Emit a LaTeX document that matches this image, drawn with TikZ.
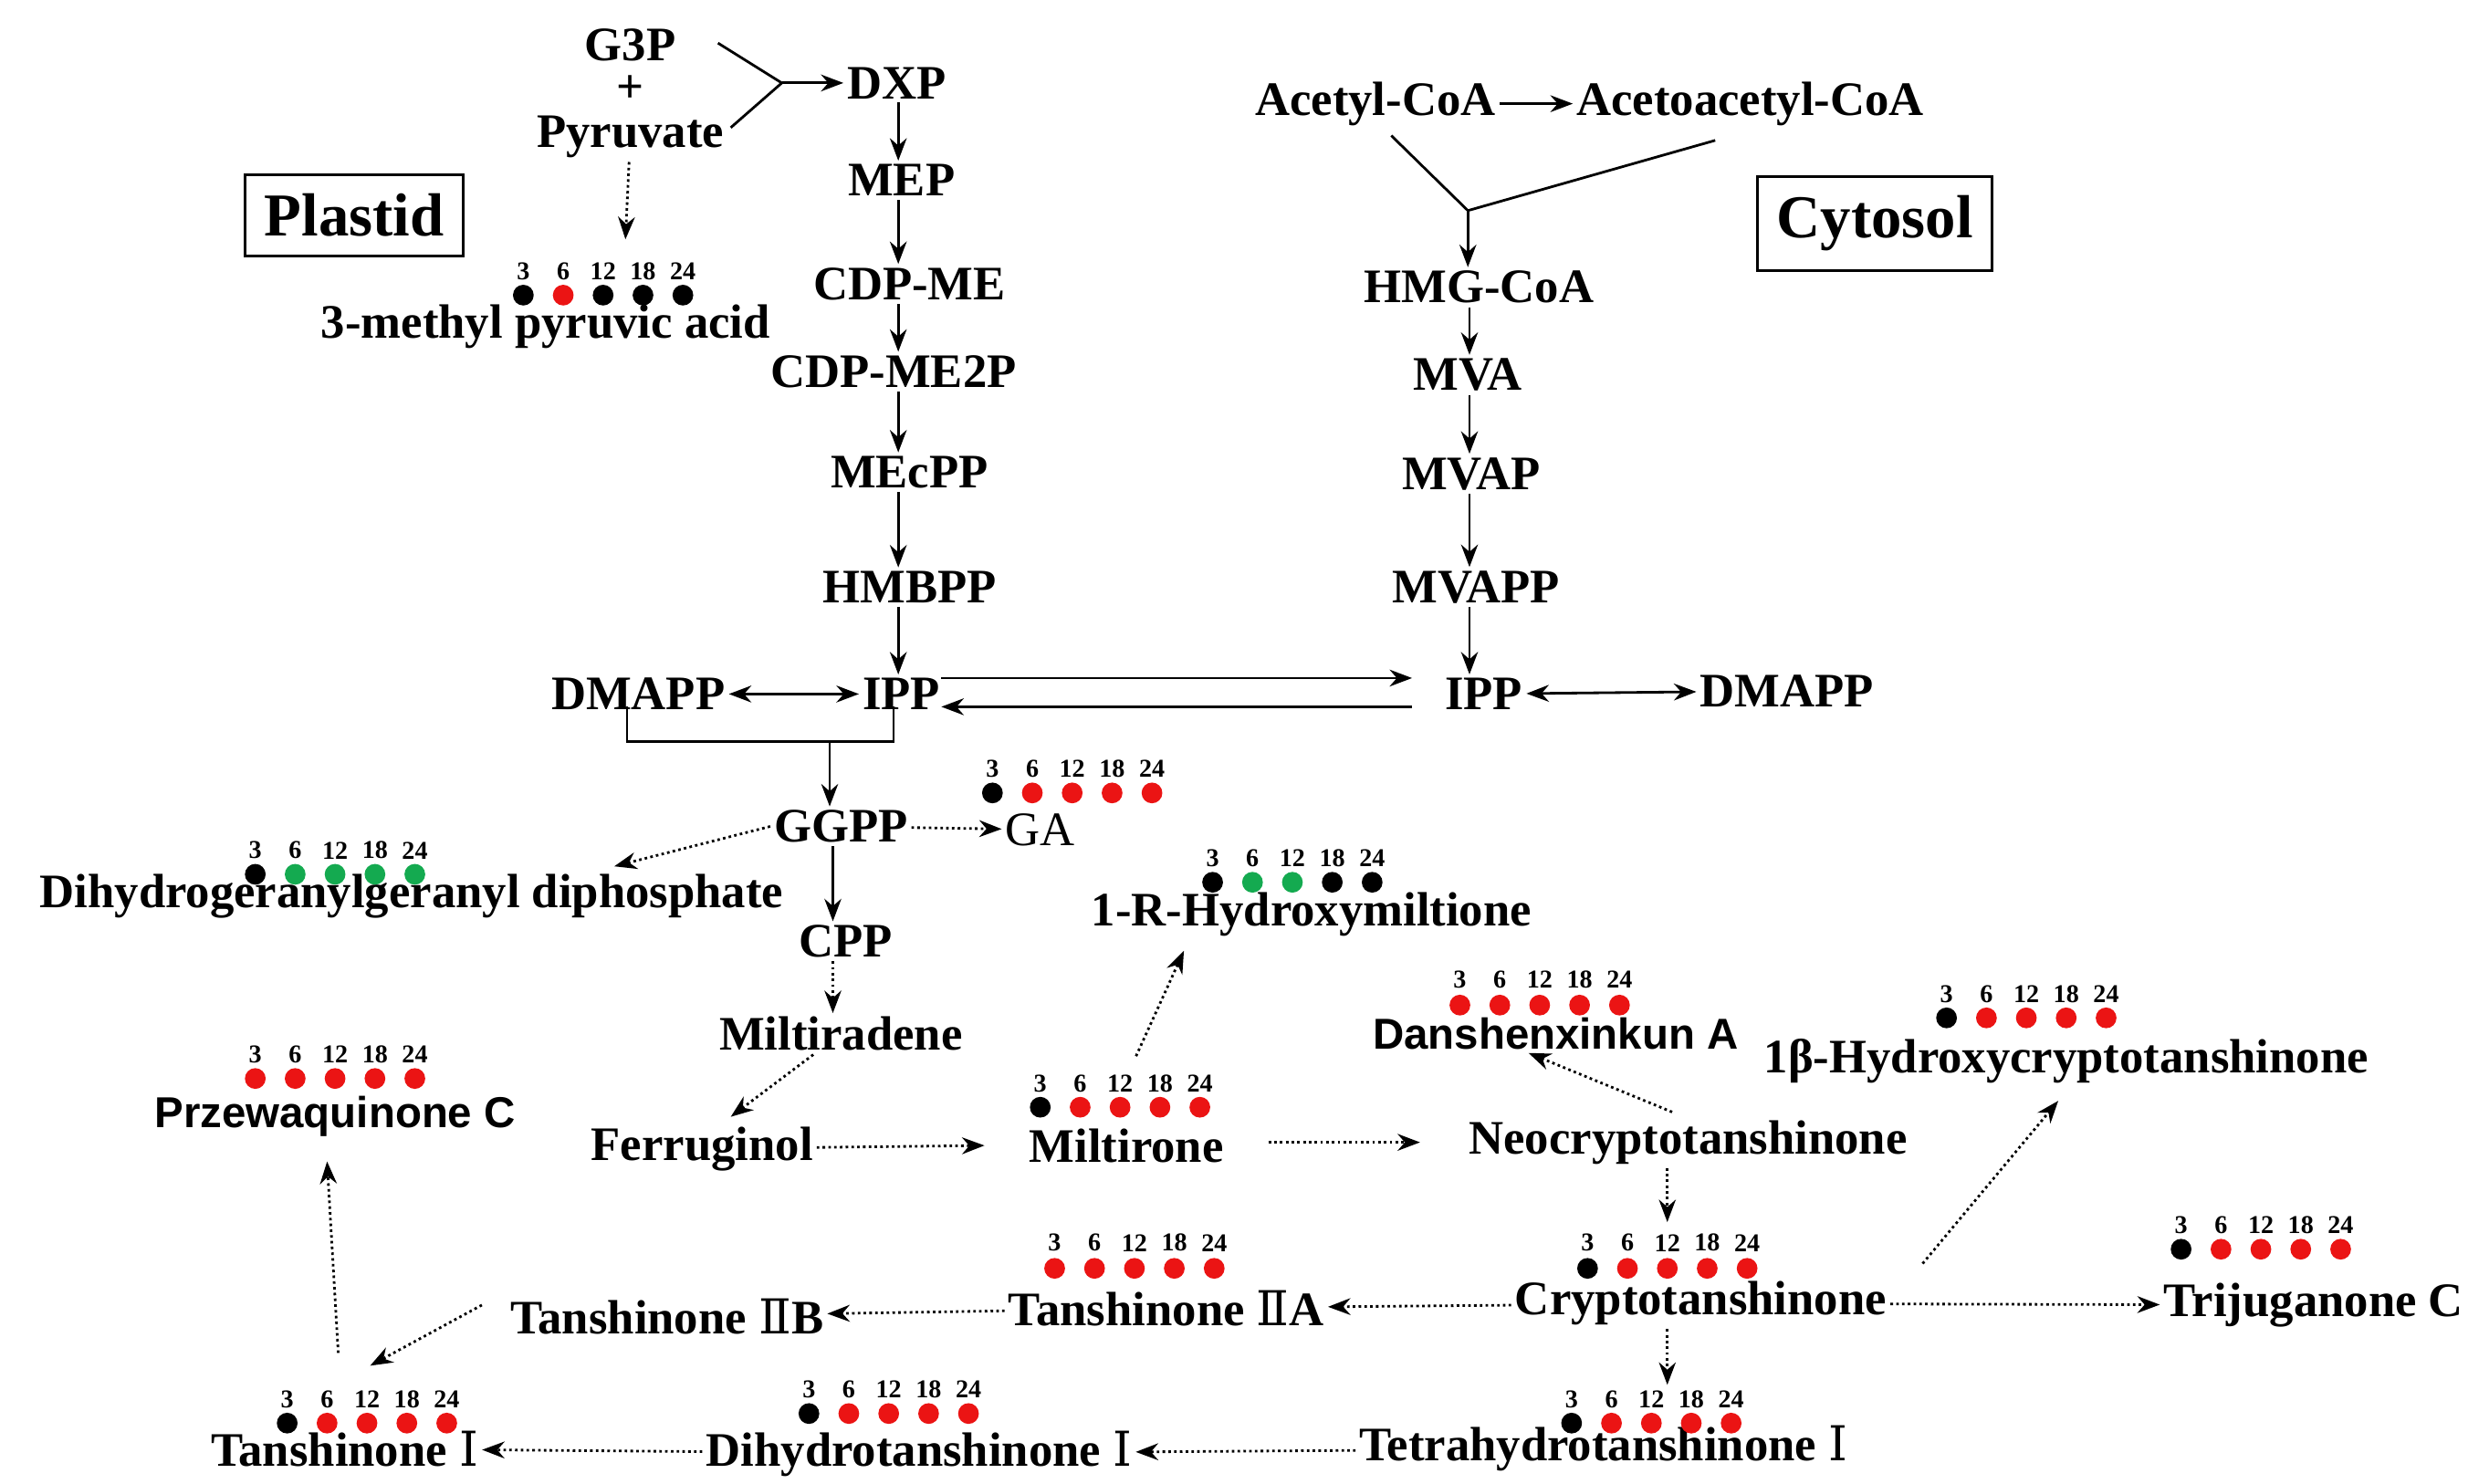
\documentclass[tikz,border=0pt]{standalone}
\usepackage{fontspec}
\setmainfont{Liberation Serif}
\setsansfont{Liberation Sans}
\newfontfamily\romfont{DejaVu Serif}
\usepackage{tikz}
\usetikzlibrary{arrows.meta}
\definecolor{dotred}{RGB}{235,20,20}
\definecolor{dotgreen}{RGB}{20,170,80}
\newcommand{\rn}[1]{{\romfont\mdseries #1}}
\tikzset{
    met/.style={font=\fontsize{15}{17}\selectfont\bfseries, inner sep=1pt},
    metsans/.style={font=\fontsize{13.5}{15}\selectfont\sffamily\bfseries, inner sep=1pt},
    conv/.style={-{Stealth[length=7pt]}, thick},
    guess/.style={-{Stealth[length=7pt]}, thick, densely dotted},
    box/.style={draw, thick, font=\fontsize{19}{21}\selectfont\bfseries, inner sep=6pt}
}
% row of five time points
\newcommand{\timedots}[4]{
    \foreach \t/\c [count=\i from 0] in {#4} {
        \fill[\c] (#1+\i*25, #2) circle (6.5);
        \node[font=\footnotesize\bfseries, inner sep=0pt] at (#1+\i*25, #3) {\t};
    }
}

\begin{document}
\begin{tikzpicture}[x=0.01748cm, y=-0.01748cm]
        \useasboundingbox (0,0) rectangle (1560,930);

        % compartments
        \node[box] (plastid) at (222,135) {Plastid};
        \node[box] (cytosol) at (1175,140) {Cytosol};

        % MEP pathway
        \node[met] (g3p) at (395,28) {G3P};
        \node[met, inner sep=0pt] (plus) at (395,56) {+};
        \node[met] (pyr) at (395,86) {Pyruvate};
        \node[met] (dxp) at (562,52) {DXP};
        \node[met] (mep) at (565,113) {MEP};
        \node[met] (cdpme) at (570,178) {CDP-ME};
        \node[met] (cdpme2p) at (560,233) {CDP-ME2P};
        \node[met] (mecpp) at (570,296) {MEcPP};
        \node[met] (hmbpp) at (570,368) {HMBPP};
        \node[met] (ippl) at (565,435) {IPP};
        \node[met] (dmappl) at (400,435) {DMAPP};
        \node[met] (mpa) at (342,205) {3-methyl pyruvic acid};
        \coordinate (fork1) at (490,52);
        \coordinate (mepx) at (563,0);
        \draw[thick] (450,27) -- (fork1) -- (458,80);
        \draw[conv] (fork1) -- (dxp);
        \draw[guess] (pyr) -- (392,150);
        \draw[conv] (dxp.south -| mepx) -- (mep.north -| mepx);
        \draw[conv] (mep.south -| mepx) -- (cdpme.north -| mepx);
        \draw[conv] (cdpme.south -| mepx) -- (cdpme2p.north -| mepx);
        \draw[conv] (cdpme2p.south -| mepx) -- (mecpp.north -| mepx);
        \draw[conv] (mecpp.south -| mepx) -- (hmbpp.north -| mepx);
        \draw[conv] (hmbpp.south -| mepx) -- (ippl.north -| mepx);
        \draw[{Stealth[length=7pt]}-{Stealth[length=7pt]}, thick] (dmappl) -- (ippl);

        % MVA pathway
        \node[met] (acetyl) at (862,65) {Acetyl-CoA};
        \node[met] (acetoacetyl) at (1097,65) {Acetoacetyl-CoA};
        \node[met] (hmg) at (927,180) {HMG-CoA};
        \node[met] (mva) at (920,235) {MVA};
        \node[met] (mvap) at (922,297) {MVAP};
        \node[met] (mvapp) at (925,368) {MVAPP};
        \node[met] (ippr) at (930,435) {IPP};
        \node[met] (dmappr) at (1120,433) {DMAPP};
        \coordinate (fork2) at (920,132);
        \coordinate (mvax) at (921,0);
        \draw[conv] (acetyl) -- (acetoacetyl);
        \draw[thick] (872,85) -- (fork2) -- (1075,88);
        \draw[conv] (fork2) -- (hmg.north -| fork2);
        \draw[conv] (hmg.south -| mvax) -- (mva.north -| mvax);
        \draw[conv] (mva.south -| mvax) -- (mvap.north -| mvax);
        \draw[conv] (mvap.south -| mvax) -- (mvapp.north -| mvax);
        \draw[conv] (mvapp.south -| mvax) -- (ippr.north -| mvax);
        \draw[{Stealth[length=7pt]}-{Stealth[length=7pt]}, thick] (ippr) -- (dmappr);
        \draw[conv] (590,425) -- (885,425);
        \draw[conv] (885,443) -- (590,443);

        % diterpenoid branch
        \node[met] (ggpp) at (527,518) {GGPP};
        \node[font=\fontsize{15}{17}\selectfont, inner sep=1pt] (ga) at (652,520) {GA};
        \node[met] (dhgg) at (258,562) {Dihydrogeranylgeranyl diphosphate};
        \node[met] (cpp) at (530,590) {CPP};
        \node[met] (miltiradene) at (527,648) {Miltiradene};
        \node[met] (ferruginol) at (440,720) {Ferruginol};
        \node[met] (miltirone) at (706,718) {Miltirone};
        \node[met] (hydroxymilt) at (822,573) {1-R-Hydroxymiltione};
        \node[metsans] (danshen) at (975,648) {Danshenxinkun A};
        \node[met] (hydroxycrypto) at (1295,665) {1β-Hydroxycryptotanshinone};
        \node[metsans] (przewa) at (210,700) {Przewaquinone C};
        \node[met] (neocrypto) at (1058,716) {Neocryptotanshinone};
        \node[met] (crypto) at (1066,817) {Cryptotanshinone};
        \node[met] (trijug) at (1450,818) {Trijuganone C};
        \node[met] (tan2a) at (731,820) {Tanshinone \rn{Ⅱ}A};
        \node[met] (tan2b) at (418,825) {Tanshinone \rn{Ⅱ}B};
        \node[met] (tan1) at (216,908) {Tanshinone \rn{Ⅰ}};
        \node[met] (dihydro1) at (576,911) {Dihydrotanshinone \rn{Ⅰ}};
        \node[met] (tetra1) at (1005,908) {Tetrahydrotanshinone \rn{Ⅰ}};

        \coordinate (cryptox) at (1045,0);
        \draw[thick] (393,443) -- (393,465) -- (560,465) -- (560,443);
        \draw[conv] (520,465) -- (ggpp.north -| 520,0);
        \draw[guess] (ggpp) -- (ga);
        \draw[guess] (ggpp.west) -- (385,543);
        \draw[conv] (ggpp.south -| 522,0) -- (cpp.north -| 522,0);
        \draw[guess] (cpp.south -| 522,0) -- (miltiradene.north -| 522,0);
        \draw[guess] (miltiradene) -- (458,700);
        \draw[guess] (ferruginol) -- (617,718);
        \draw[guess] (712,662) -- (742,596);
        \draw[guess] (795,716) -- (890,716);
        \draw[guess] (1048,697) -- (958,660);
        \draw[guess] (neocrypto.south -| cryptox) -- (1045,766);
        \draw[guess] (1205,792) -- (1290,690);
        \draw[guess] (crypto) -- (trijug);
        \draw[guess] (crypto) -- (tan2a);
        \draw[guess] (tan2a) -- (tan2b);
        \draw[guess] (302,818) -- (232,856);
        \draw[guess] (212,848) -- (205,728);
        \draw[guess] (crypto.south -| cryptox) -- (1045,868);
        \draw[guess] (tetra1) -- (dihydro1);
        \draw[guess] (dihydro1) -- (tan1);

        % expression at 3, 6, 12, 18, 24
        \timedots{328}{185}{170}{3/black,6/dotred,12/black,18/black,24/black}
        \timedots{622}{497}{482}{3/black,6/dotred,12/dotred,18/dotred,24/dotred}
        \timedots{160}{548}{533}{3/black,6/dotgreen,12/dotgreen,18/dotgreen,24/dotgreen}
        \timedots{760}{553}{538}{3/black,6/dotgreen,12/dotgreen,18/black,24/black}
        \timedots{915}{630}{614}{3/dotred,6/dotred,12/dotred,18/dotred,24/dotred}
        \timedots{1220}{638}{623}{3/black,6/dotred,12/dotred,18/dotred,24/dotred}
        \timedots{160}{676}{661}{3/dotred,6/dotred,12/dotred,18/dotred,24/dotred}
        \timedots{652}{694}{679}{3/black,6/dotred,12/dotred,18/dotred,24/dotred}
        \timedots{995}{795}{779}{3/black,6/dotred,12/dotred,18/dotred,24/dotred}
        \timedots{1367}{783}{768}{3/black,6/dotred,12/dotred,18/dotred,24/dotred}
        \timedots{661}{795}{779}{3/dotred,6/dotred,12/dotred,18/dotred,24/dotred}
        \timedots{180}{892}{877}{3/black,6/dotred,12/dotred,18/dotred,24/dotred}
        \timedots{507}{886}{871}{3/black,6/dotred,12/dotred,18/dotred,24/dotred}
        \timedots{985}{892}{877}{3/black,6/dotred,12/dotred,18/dotred,24/dotred}
\end{tikzpicture}
\end{document}
